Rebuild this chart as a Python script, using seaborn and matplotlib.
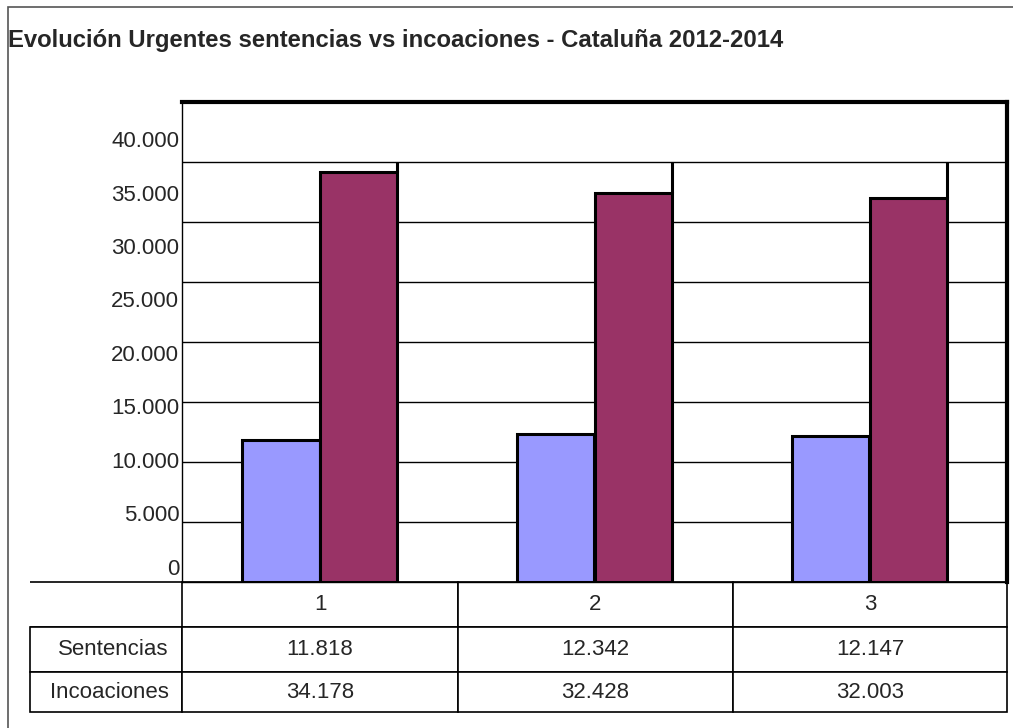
import pandas as pd
import matplotlib.pyplot as plt
import seaborn as sns
from matplotlib.patches import Rectangle

periodos = ['1', '2', '3']
sentencias = [11818, 12342, 12147]
incoaciones = [34178, 32428, 32003]
series = ['Sentencias', 'Incoaciones']
colores = ['#9999FF', '#993366']
titulo = 'Evolución Urgentes sentencias vs incoaciones - Cataluña 2012-2014'

df = pd.DataFrame({
    'periodo': periodos * 2,
    'valor': sentencias + incoaciones,
    'serie': [series[0]] * 3 + [series[1]] * 3,
})


def miles(v):
    return f'{int(v):,}'.replace(',', '.')


sns.set_theme(style='white')
plt.rcParams['font.family'] = ['Liberation Sans', 'DejaVu Sans']

W, H = 1013, 728
fig = plt.figure(figsize=(W / 100, H / 100), dpi=100)
ax = fig.add_axes([182 / W, 1 - 582 / H, 825 / W, 480 / H])

sns.barplot(data=df, x='periodo', y='valor', hue='serie', palette=colores,
            saturation=1, edgecolor='black', linewidth=2.2, width=0.567,
            gap=0, legend=False, ax=ax, zorder=3)
ax.set_xlim(-0.5, 2.5)
ax.set_ylim(0, 40000)
ax.set_yticks(range(0, 40001, 5000))
ax.set_yticklabels([])
ax.set_xticks([])
ax.set_xlabel('')
ax.set_ylabel('')
ax.tick_params(length=0)
ax.grid(axis='y', color='black', linewidth=1)
ax.set_axisbelow(True)
for side, lw in [('top', 3), ('right', 3), ('left', 1), ('bottom', 1)]:
    ax.spines[side].set_visible(True)
    ax.spines[side].set_color('black')
    ax.spines[side].set_linewidth(lw)

# stray edge lines above the Incoaciones bars, as in the original render
n = len(periodos)
for p in ax.patches[n:2 * n]:
    top = p.get_height()
    if top < 35000:
        ax.vlines(p.get_x() + p.get_width(), top, 35000, color='black',
                  linewidth=2.2, zorder=4)

# tick labels sit on a slightly different scale than the gridlines
lab = ax.twinx()
lab.set_ylim(-1402, 43458)
lab.yaxis.set_ticks_position('left')
lab.set_yticks(range(0, 40001, 5000))
lab.set_yticklabels([miles(v) for v in range(0, 40001, 5000)], fontsize=16)
lab.tick_params(length=0, pad=2)
for s in lab.spines.values():
    s.set_visible(False)

# data table under the plot
celdas = [[''] + periodos,
          [series[0]] + [miles(v) for v in sentencias],
          [series[1]] + [miles(v) for v in incoaciones]]
tabla = ax.table(cellText=celdas, cellLoc='center',
                 colWidths=[152, 276, 275, 274],
                 bbox=[(30 - 182) / 825, -130 / 480, 977 / 825, 130 / 480])
tabla.auto_set_font_size(False)
tabla.set_fontsize(16)
alturas = [45, 45, 40]
for (r, c), cell in tabla.get_celld().items():
    cell.set_linewidth(1.2)
    cell.set_edgecolor('black')
    cell.set_height(alturas[r])
    if c == 0:
        cell._loc = 'right'
        cell.PAD = 0.086
        cell.get_text().set_horizontalalignment('right')
    if r == 0 and c == 0:
        cell.visible_edges = 'TB'

fig.text(8 / W, 1 - 41 / H, titulo, fontsize=17.2, fontweight='bold',
         va='center', ha='left')

# outer chart frame (only top and left edges fall inside the image)
fig.add_artist(Rectangle((8 / W, -0.1), 1.2, 0.1 + 1 - 7 / H,
                         transform=fig.transFigure, fill=False,
                         edgecolor='#555555', linewidth=1.2))

fig.savefig('out.png', dpi=100)
